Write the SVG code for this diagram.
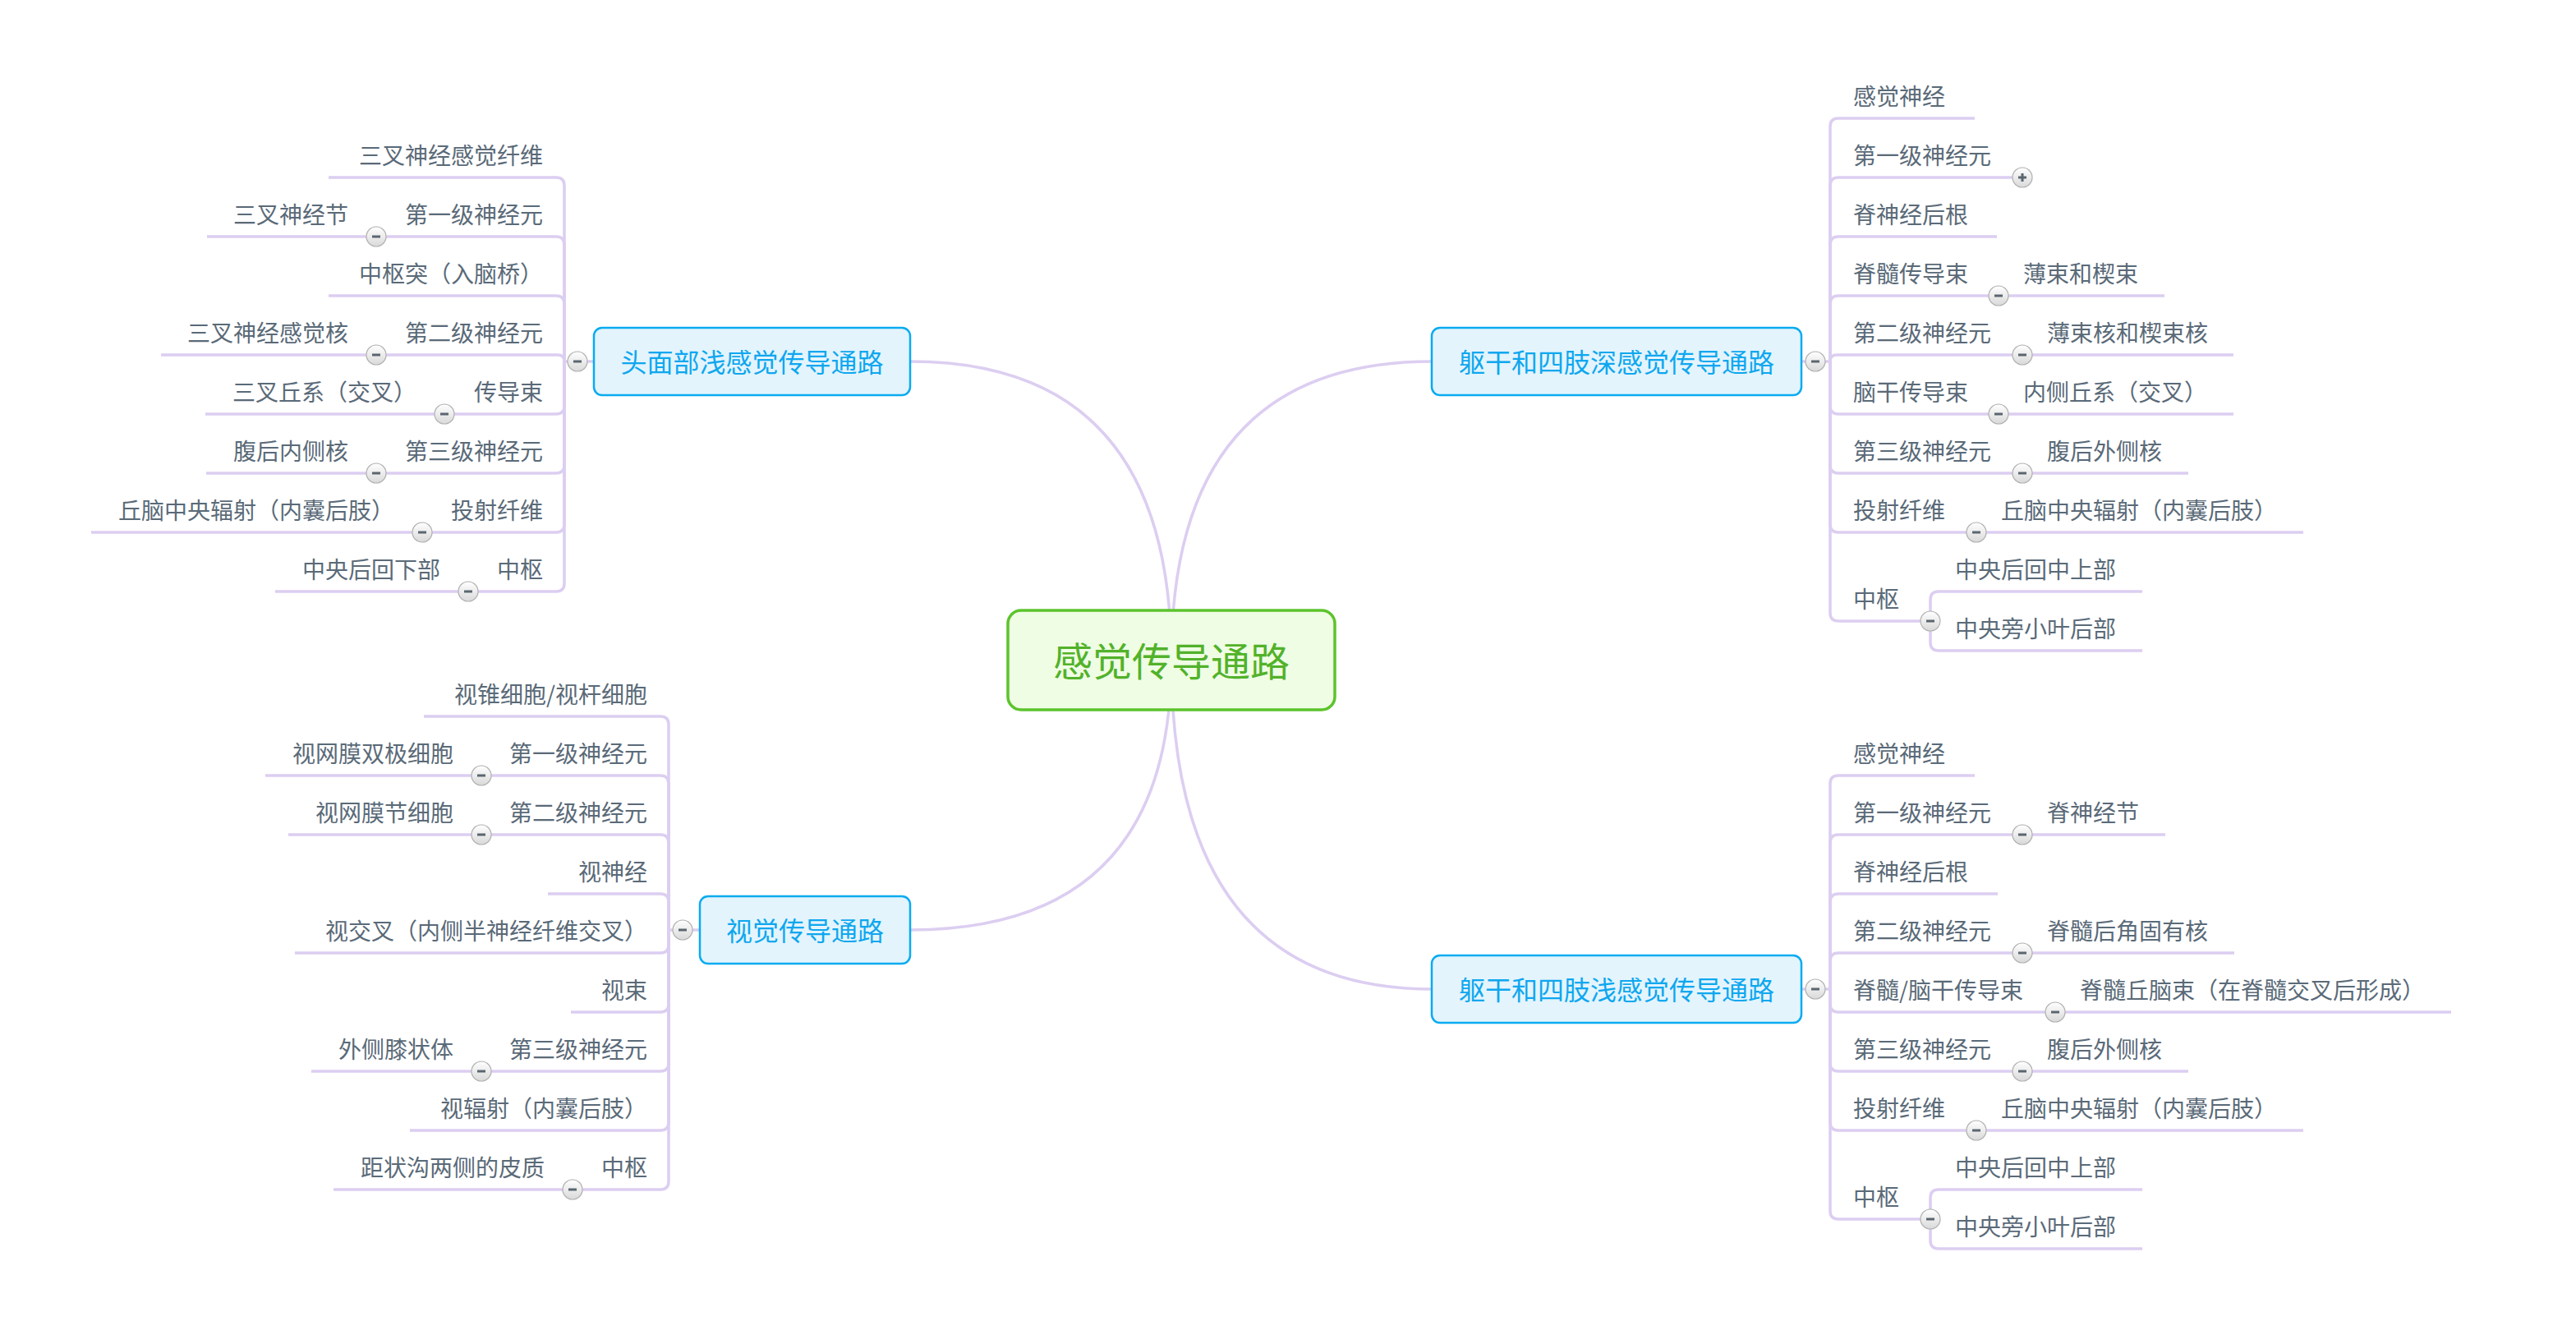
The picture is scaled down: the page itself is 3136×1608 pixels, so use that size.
<svg xmlns="http://www.w3.org/2000/svg" xmlns:xlink="http://www.w3.org/1999/xlink" width="3136" height="1608" viewBox="0 0 3136 1608">
<defs>
<style>
.c{fill:none;stroke:#dccef1;stroke-width:3.5}
.m{fill:none;stroke:#dccef1;stroke-width:3.5}
text{font-family:"Noto Sans CJK SC","Noto Sans",sans-serif}
.t{font-size:28px;fill:#5a6a78}
.e{text-anchor:end}
.mn rect{fill:#e3f4fd;stroke:#0aabf0;stroke-width:2.5}
.mn text{font-size:32px;fill:#0ea7ef;text-anchor:middle}
</style>
<linearGradient id="tg" x1="0" y1="0" x2="0" y2="1">
<stop offset="0" stop-color="#ffffff"/>
<stop offset="1" stop-color="#d9d9d9"/>
</linearGradient>
<g id="minus"><circle r="12" fill="url(#tg)" stroke="#b0b0b0" stroke-width="1.2"/><rect x="-5" y="-1.5" width="10" height="3" fill="#5b6670"/></g>
<g id="plus"><circle r="12" fill="url(#tg)" stroke="#b0b0b0" stroke-width="1.2"/><rect x="-5" y="-1.5" width="10" height="3" fill="#5b6670"/><rect x="-1.5" y="-5" width="3" height="10" fill="#5b6670"/></g>
</defs>
<rect width="3136" height="1608" fill="#ffffff"/>

<g id="connectors">
<path class="m" d="M1426,803 Q1426,440 1108,440"/>
<path class="m" d="M1426,803 Q1426,440 1743,440"/>
<path class="m" d="M1426,803 Q1426,1132 1108,1132"/>
<path class="m" d="M1426,803 Q1426,1204 1743,1204"/>

<path class="c" d="M2193,440 H2228"/>
<path class="c" d="M2228,440 V154 Q2228,144 2238,144 H2404"/>
<path class="c" d="M2228,440 V226 Q2228,216 2238,216 H2462"/>
<path class="c" d="M2228,440 V298 Q2228,288 2238,288 H2431"/>
<path class="c" d="M2228,440 V370 Q2228,360 2238,360 H2433 M2433,360 H2635"/>
<path class="c" d="M2228,440 Q2228,432 2236,432 H2462 M2462,432 H2719"/>
<path class="c" d="M2228,440 V494 Q2228,504 2238,504 H2433 M2433,504 H2719"/>
<path class="c" d="M2228,440 V566 Q2228,576 2238,576 H2462 M2462,576 H2664"/>
<path class="c" d="M2228,440 V638 Q2228,648 2238,648 H2406 M2406,648 H2804"/>
<path class="c" d="M2228,440 V746 Q2228,756 2238,756 H2350"/>
<path class="c" d="M2350,756 V730 Q2350,720 2360,720 H2608"/>
<path class="c" d="M2350,756 V782 Q2350,792 2360,792 H2608"/>

<path class="c" d="M2193,1204 H2228"/>
<path class="c" d="M2228,1204 V954 Q2228,944 2238,944 H2404"/>
<path class="c" d="M2228,1204 V1026 Q2228,1016 2238,1016 H2462 M2462,1016 H2636"/>
<path class="c" d="M2228,1204 V1098 Q2228,1088 2238,1088 H2432"/>
<path class="c" d="M2228,1204 V1170 Q2228,1160 2238,1160 H2462 M2462,1160 H2720"/>
<path class="c" d="M2228,1204 V1222 Q2228,1232 2238,1232 H2502 M2502,1232 H2984"/>
<path class="c" d="M2228,1204 V1294 Q2228,1304 2238,1304 H2462 M2462,1304 H2664"/>
<path class="c" d="M2228,1204 V1366 Q2228,1376 2238,1376 H2406 M2406,1376 H2804"/>
<path class="c" d="M2228,1204 V1474 Q2228,1484 2238,1484 H2350"/>
<path class="c" d="M2350,1484 V1458 Q2350,1448 2360,1448 H2608"/>
<path class="c" d="M2350,1484 V1510 Q2350,1520 2360,1520 H2608"/>

<path class="c" d="M723,440 H687"/>
<path class="c" d="M687,440 V226 Q687,216 677,216 H400"/>
<path class="c" d="M687,440 V298 Q687,288 677,288 H458 M458,288 H252"/>
<path class="c" d="M687,440 V370 Q687,360 677,360 H400"/>
<path class="c" d="M687,440 Q687,432 679,432 H458 M458,432 H196"/>
<path class="c" d="M687,440 V494 Q687,504 677,504 H541 M541,504 H250"/>
<path class="c" d="M687,440 V566 Q687,576 677,576 H458 M458,576 H251"/>
<path class="c" d="M687,440 V638 Q687,648 677,648 H514 M514,648 H111"/>
<path class="c" d="M687,440 V710 Q687,720 677,720 H570 M570,720 H335"/>

<path class="c" d="M852,1132 H814"/>
<path class="c" d="M814,1132 V882 Q814,872 804,872 H516"/>
<path class="c" d="M814,1132 V954 Q814,944 804,944 H586 M586,944 H323"/>
<path class="c" d="M814,1132 V1026 Q814,1016 804,1016 H586 M586,1016 H351"/>
<path class="c" d="M814,1132 V1098 Q814,1088 804,1088 H667"/>
<path class="c" d="M814,1132 V1150 Q814,1160 804,1160 H359"/>
<path class="c" d="M814,1132 V1222 Q814,1232 804,1232 H695"/>
<path class="c" d="M814,1132 V1294 Q814,1304 804,1304 H586 M586,1304 H379"/>
<path class="c" d="M814,1132 V1366 Q814,1376 804,1376 H499"/>
<path class="c" d="M814,1132 V1438 Q814,1448 804,1448 H697 M697,1448 H406"/>
</g>

<g id="toggles">
<use xlink:href="#minus" x="2210" y="440"/>
<use xlink:href="#plus" x="2462" y="216"/>
<use xlink:href="#minus" x="2433" y="360"/>
<use xlink:href="#minus" x="2462" y="432"/>
<use xlink:href="#minus" x="2433" y="504"/>
<use xlink:href="#minus" x="2462" y="576"/>
<use xlink:href="#minus" x="2406" y="648"/>
<use xlink:href="#minus" x="2350" y="756"/>
<use xlink:href="#minus" x="2210" y="1204"/>
<use xlink:href="#minus" x="2462" y="1016"/>
<use xlink:href="#minus" x="2462" y="1160"/>
<use xlink:href="#minus" x="2502" y="1232"/>
<use xlink:href="#minus" x="2462" y="1304"/>
<use xlink:href="#minus" x="2406" y="1376"/>
<use xlink:href="#minus" x="2350" y="1484"/>
<use xlink:href="#minus" x="703" y="440"/>
<use xlink:href="#minus" x="458" y="288"/>
<use xlink:href="#minus" x="458" y="432"/>
<use xlink:href="#minus" x="541" y="504"/>
<use xlink:href="#minus" x="458" y="576"/>
<use xlink:href="#minus" x="514" y="648"/>
<use xlink:href="#minus" x="570" y="720"/>
<use xlink:href="#minus" x="831" y="1132"/>
<use xlink:href="#minus" x="586" y="944"/>
<use xlink:href="#minus" x="586" y="1016"/>
<use xlink:href="#minus" x="586" y="1304"/>
<use xlink:href="#minus" x="697" y="1448"/>
</g>

<g id="root">
<rect x="1227" y="743" width="398" height="121" rx="16" fill="#effde4" stroke="#5cc42c" stroke-width="3.5"/>
<text x="1426" y="823" font-size="48" fill="#52b22a" text-anchor="middle">感觉传导通路</text>
</g>

<g id="head" class="mn"><rect x="723" y="399" width="385" height="82" rx="10"/><text x="915.5" y="453">头面部浅感觉传导通路</text></g>
<g id="deep" class="mn"><rect x="1743" y="399" width="450" height="82" rx="10"/><text x="1968" y="453">躯干和四肢深感觉传导通路</text></g>
<g id="visual" class="mn"><rect x="852" y="1091" width="256" height="82" rx="10"/><text x="980" y="1145">视觉传导通路</text></g>
<g id="shallow" class="mn"><rect x="1743" y="1163" width="450" height="82" rx="10"/><text x="1968" y="1217">躯干和四肢浅感觉传导通路</text></g>

<g id="labels" transform="translate(0,1.5)">
<g id="d1"><text class="t" x="2256" y="126">感觉神经</text></g>
<g id="d2"><text class="t" x="2256" y="198">第一级神经元</text></g>
<g id="d3"><text class="t" x="2256" y="270">脊神经后根</text></g>
<g id="d4"><text class="t" x="2256" y="342">脊髓传导束</text></g>
<g id="d4a"><text class="t" x="2463" y="342">薄束和楔束</text></g>
<g id="d5"><text class="t" x="2256" y="414">第二级神经元</text></g>
<g id="d5a"><text class="t" x="2492" y="414">薄束核和楔束核</text></g>
<g id="d6"><text class="t" x="2256" y="486">脑干传导束</text></g>
<g id="d6a"><text class="t" x="2463" y="486">内侧丘系（交叉）</text></g>
<g id="d7"><text class="t" x="2256" y="558">第三级神经元</text></g>
<g id="d7a"><text class="t" x="2492" y="558">腹后外侧核</text></g>
<g id="d8"><text class="t" x="2256" y="630">投射纤维</text></g>
<g id="d8a"><text class="t" x="2436" y="630">丘脑中央辐射（内囊后肢）</text></g>
<g id="d9"><text class="t" x="2256" y="738">中枢</text></g>
<g id="d9a"><text class="t" x="2380" y="702">中央后回中上部</text></g>
<g id="d9b"><text class="t" x="2380" y="774">中央旁小叶后部</text></g>

<g id="s1"><text class="t" x="2256" y="926">感觉神经</text></g>
<g id="s2"><text class="t" x="2256" y="998">第一级神经元</text></g>
<g id="s2a"><text class="t" x="2492" y="998">脊神经节</text></g>
<g id="s3"><text class="t" x="2256" y="1070">脊神经后根</text></g>
<g id="s4"><text class="t" x="2256" y="1142">第二级神经元</text></g>
<g id="s4a"><text class="t" x="2492" y="1142">脊髓后角固有核</text></g>
<g id="s5"><text class="t" x="2256" y="1214">脊髓/脑干传导束</text></g>
<g id="s5a"><text class="t" x="2532" y="1214">脊髓丘脑束（在脊髓交叉后形成）</text></g>
<g id="s6"><text class="t" x="2256" y="1286">第三级神经元</text></g>
<g id="s6a"><text class="t" x="2492" y="1286">腹后外侧核</text></g>
<g id="s7"><text class="t" x="2256" y="1358">投射纤维</text></g>
<g id="s7a"><text class="t" x="2436" y="1358">丘脑中央辐射（内囊后肢）</text></g>
<g id="s8"><text class="t" x="2256" y="1466">中枢</text></g>
<g id="s8a"><text class="t" x="2380" y="1430">中央后回中上部</text></g>
<g id="s8b"><text class="t" x="2380" y="1502">中央旁小叶后部</text></g>

<g id="h1"><text class="t e" x="661" y="198">三叉神经感觉纤维</text></g>
<g id="h2"><text class="t e" x="661" y="270">第一级神经元</text></g>
<g id="h2a"><text class="t e" x="424" y="270">三叉神经节</text></g>
<g id="h3"><text class="t e" x="661" y="342">中枢突（入脑桥）</text></g>
<g id="h4"><text class="t e" x="661" y="414">第二级神经元</text></g>
<g id="h4a"><text class="t e" x="424" y="414">三叉神经感觉核</text></g>
<g id="h5"><text class="t e" x="661" y="486">传导束</text></g>
<g id="h5a"><text class="t e" x="507" y="486">三叉丘系（交叉）</text></g>
<g id="h6"><text class="t e" x="661" y="558">第三级神经元</text></g>
<g id="h6a"><text class="t e" x="424" y="558">腹后内侧核</text></g>
<g id="h7"><text class="t e" x="661" y="630">投射纤维</text></g>
<g id="h7a"><text class="t e" x="480" y="630">丘脑中央辐射（内囊后肢）</text></g>
<g id="h8"><text class="t e" x="661" y="702">中枢</text></g>
<g id="h8a"><text class="t e" x="536" y="702">中央后回下部</text></g>

<g id="v1"><text class="t e" x="788" y="854">视锥细胞/视杆细胞</text></g>
<g id="v2"><text class="t e" x="788" y="926">第一级神经元</text></g>
<g id="v2a"><text class="t e" x="552" y="926">视网膜双极细胞</text></g>
<g id="v3"><text class="t e" x="788" y="998">第二级神经元</text></g>
<g id="v3a"><text class="t e" x="552" y="998">视网膜节细胞</text></g>
<g id="v4"><text class="t e" x="788" y="1070">视神经</text></g>
<g id="v5"><text class="t e" x="788" y="1142">视交叉（内侧半神经纤维交叉）</text></g>
<g id="v6"><text class="t e" x="788" y="1214">视束</text></g>
<g id="v7"><text class="t e" x="788" y="1286">第三级神经元</text></g>
<g id="v7a"><text class="t e" x="552" y="1286">外侧膝状体</text></g>
<g id="v8"><text class="t e" x="788" y="1358">视辐射（内囊后肢）</text></g>
<g id="v9"><text class="t e" x="788" y="1430">中枢</text></g>
<g id="v9a"><text class="t e" x="663" y="1430">距状沟两侧的皮质</text></g>
</g>
</svg>
